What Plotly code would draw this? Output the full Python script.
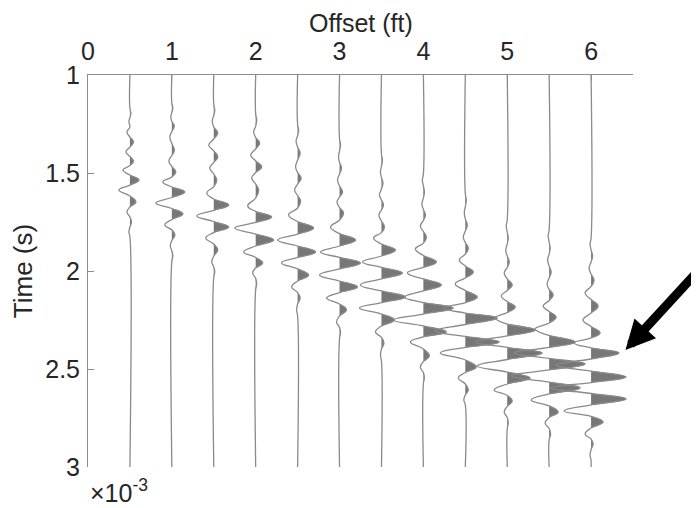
import plotly.graph_objects as go

# ---------------- data ----------------
offsets = [0.5, 1.0, 1.5, 2.0, 2.5, 3.0, 3.5, 4.0, 4.5, 5.0, 5.5, 6.0]

# times (x10^-3 s) of wiggle extrema, and relative amplitudes at those times
t_01 = [1.194, 1.240, 1.291, 1.342, 1.393, 1.439, 1.485, 1.536, 1.587, 1.648, 1.699, 1.750, 1.801]
a_01 = [1, -1, -3, 3.5, -4, 3.5, -7, 9, -11, 6, -3, 1.5, -1]

t_02 = [1.168, 1.214, 1.260, 1.316, 1.383, 1.439, 1.495, 1.546, 1.597, 1.653, 1.709, 1.765, 1.816, 1.872, 1.923]
a_02 = [1, -1, 2.5, -2, 2.5, -3, 4, -9, 13, -16, 11, -7, 3, -1.5, 1]

t_03 = [1.179, 1.235, 1.296, 1.357, 1.418, 1.474, 1.536, 1.602, 1.663, 1.719, 1.776, 1.832, 1.893, 1.954, 2.005]
a_03 = [1, -1.5, 4, -5, 4, -4, 3, -7, 15, -17, 15, -8, 4, -2, 1]

t_04 = [1.230, 1.291, 1.347, 1.408, 1.469, 1.526, 1.587, 1.668, 1.724, 1.781, 1.842, 1.903, 1.959, 2.010, 2.066]
a_04 = [1, -2, 4, -5, 6, -4, 3, -8, 16, -21, 18, -12, 7, -3, 1]

t_05 = [1.281, 1.337, 1.398, 1.469, 1.526, 1.587, 1.643, 1.714, 1.781, 1.842, 1.903, 1.959, 2.020, 2.082, 2.138, 2.199]
a_05 = [1, -1.5, 2.5, -2, 3.5, -3, 3, -9, 16, -20, 18, -16, 11, -6, 2.5, -1]

t_06 = [1.357, 1.418, 1.474, 1.536, 1.597, 1.648, 1.704, 1.776, 1.842, 1.903, 1.959, 2.020, 2.082, 2.138, 2.199, 2.260, 2.316]
a_06 = [1, -1, 2, -2, 3, -2.5, 4, -9, 16, -19, 21, -20, 18, -13, 7, -3, 1]

t_07 = [1.434, 1.495, 1.551, 1.612, 1.663, 1.714, 1.776, 1.832, 1.893, 1.954, 2.010, 2.071, 2.133, 2.189, 2.250, 2.311, 2.367, 2.429]
a_07 = [1, -1, 1.5, -2, 2, -2.5, 3, -8, 14, -19, 21, -21, 24, -22, 13, -6, 2.5, -1]

t_08 = [1.536, 1.597, 1.658, 1.714, 1.770, 1.827, 1.888, 1.954, 2.010, 2.071, 2.133, 2.189, 2.250, 2.311, 2.362, 2.434, 2.490, 2.546]
a_08 = [-1, 1, -1.5, 2, -3, 3, -8, 13, -16, 18, -19, 30, -30, 23, -13, 6, -3, 1]

t_09 = [1.638, 1.704, 1.765, 1.827, 1.883, 1.944, 2.005, 2.066, 2.133, 2.189, 2.240, 2.306, 2.362, 2.418, 2.490, 2.546, 2.607, 2.658]
a_09 = [1, -1, 2, -2, 3, -6, 8, -10, 12, -22, 32, -30, 34, -25, 11, -7, 3, -1.5]

t_10 = [1.770, 1.832, 1.893, 1.954, 2.010, 2.071, 2.128, 2.184, 2.240, 2.301, 2.362, 2.418, 2.485, 2.546, 2.607, 2.663, 2.719, 2.776]
a_10 = [-1, 1, -1.5, 2, -3, 5, -6, 8, -12, 28, -32, 35, -30, 23, -13, 5, -3, 1]

t_11 = [1.821, 1.883, 1.944, 2.005, 2.066, 2.122, 2.179, 2.235, 2.296, 2.362, 2.418, 2.474, 2.536, 2.597, 2.658, 2.719, 2.776, 2.832]
a_11 = [-1, 1, -1.5, 2, -2, 4, -6, 7, -14, 26, -35, 36, -38, 31, -18, 9, -4, 1.5]

t_12 = [1.862, 1.923, 1.985, 2.046, 2.112, 2.179, 2.250, 2.316, 2.367, 2.418, 2.480, 2.541, 2.597, 2.653, 2.714, 2.770, 2.832, 2.883, 2.939]
a_12 = [-1, 1.5, -2, 3, -6, 7, -8, 9, -17, 28, -35, 35, -40, 35, -27, 12, -6, 2, -1]

trace_times = [t_01, t_02, t_03, t_04, t_05, t_06, t_07, t_08, t_09, t_10, t_11, t_12]
trace_amps = [a_01, a_02, a_03, a_04, a_05, a_06, a_07, a_08, a_09, a_10, a_11, a_12]

x_ticks = [0, 1, 2, 3, 4, 5, 6]
y_ticks = [1, 1.5, 2, 2.5, 3]
y_ticktext = ["1", "1.5", "2", "2.5", "3"]

# ---------------- style ----------------
GAIN = 1 / 83.8          # ft of horizontal deflection per amplitude unit
T_START, T_END = 1.0, 3.0
LINE_COL = "#8a8a8a"
FILL_COL = "#777777"
AXIS_COL = "#8c8c8c"
TEXT_COL = "#262626"
FONT = "Liberation Sans, Arial, Helvetica, sans-serif"

fig = go.Figure()

for off, ts, amps in zip(offsets, trace_times, trace_amps):
    n = len(ts)
    # baseline crossings between successive extrema (rendering helper)
    zeros = [(ts[i] + ts[i + 1]) / 2 for i in range(n - 1)]
    lead = ts[0] - (ts[1] - ts[0]) / 2
    tail = ts[-1] + (ts[-1] - ts[-2]) / 2
    zb = [lead] + zeros          # zero before extremum i
    za = zeros + [tail]          # zero after extremum i

    # line path
    ys = [T_START, lead]
    xs = [off, off]
    for i in range(n):
        ys.append(ts[i])
        xs.append(off + amps[i] * GAIN)
        ys.append(za[i])
        xs.append(off)
    ys.append(T_END)
    xs.append(off)

    # positive lobes filled
    fx, fy = [], []
    for i in range(n):
        if amps[i] > 0:
            fx += [off, off + amps[i] * GAIN, off, None]
            fy += [zb[i], ts[i], za[i], None]

    fig.add_trace(go.Scatter(x=fx, y=fy, mode="lines", fill="toself",
                             fillcolor=FILL_COL,
                             line=dict(width=0, shape="spline", smoothing=1.3, color=FILL_COL),
                             hoverinfo="skip", showlegend=False))
    fig.add_trace(go.Scatter(x=xs, y=ys, mode="lines",
                             line=dict(color=LINE_COL, width=1.3, shape="spline", smoothing=1.3),
                             hoverinfo="skip", showlegend=False))

# the page body adds an 8 px margin, so the figure is sized/margined to compensate
fig.update_layout(
    width=691, height=500,
    margin=dict(l=80, r=66, t=67, b=41, autoexpand=False),
    paper_bgcolor="white", plot_bgcolor="white",
    font=dict(family=FONT, size=25, color=TEXT_COL),
    showlegend=False,
    xaxis=dict(side="top", range=[0, 6.5], tickvals=x_ticks, ticks="inside", ticklen=6,
               tickcolor=AXIS_COL, showline=True, linecolor=AXIS_COL, linewidth=1,
               showgrid=False, zeroline=False, mirror=False, automargin=False,
               tickfont=dict(size=25), ticklabelstandoff=4),
    yaxis=dict(range=[3, 1], tickvals=y_ticks, ticktext=y_ticktext, ticks="inside", ticklen=6,
               tickcolor=AXIS_COL, showline=True, linecolor=AXIS_COL, linewidth=1,
               showgrid=False, zeroline=False, mirror=False, automargin=False,
               title=dict(text="Time (s)", font=dict(size=26), standoff=6),
               tickfont=dict(size=25), ticklabelstandoff=2),
    annotations=[
        dict(x=0.5, y=1, xref="paper", yref="paper", yshift=52, xanchor="center", yanchor="middle",
             text="Offset (ft)", showarrow=False, font=dict(size=25, color=TEXT_COL)),
        dict(x=6.41, y=2.403, xref="x", yref="y", text="", showarrow=True,
             ax=82, ay=-80, arrowhead=2, arrowwidth=9, arrowsize=0.65, arrowcolor="black",
             standoff=0),
        dict(x=0, y=-0.062, xref="paper", yref="paper", xanchor="left", yanchor="middle",
             text="×10<sup>-3</sup>", showarrow=False, font=dict(size=25, color=TEXT_COL),
             xshift=0),
    ],
)

fig.write_html("out.html")
